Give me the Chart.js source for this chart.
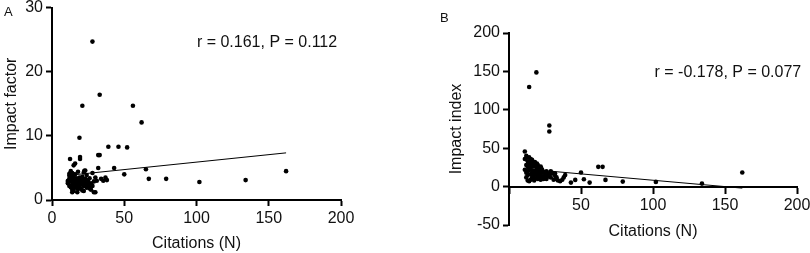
<!DOCTYPE html>
<html>
<head>
<meta charset="utf-8">
<script src="https://cdn.jsdelivr.net/npm/chart.js@4.4.0/dist/chart.umd.min.js"></script>
<style>
  html, body { margin: 0; padding: 0; background: #fff; overflow: hidden; }
  #wrap { position: relative; width: 810px; height: 253px; overflow: hidden; }
  #chartA { position: absolute; left: 0; top: -5px; }
  #chartB { position: absolute; left: 400px; top: 0; }
</style>
</head>
<body>
<div id="wrap">
  <canvas id="chartA" width="400" height="258"></canvas>
  <canvas id="chartB" width="420" height="253"></canvas>
</div>
<script>
// citations of each article, with the impact factor (A) and impact index (B)
let citations = [
    162, 134, 102, 79, 67, 65, 62, 56, 52, 50,
    46, 43, 39, 38, 37, 35.5, 34, 33, 33, 32,
    32, 31, 28, 28, 29, 30, 21, 19, 14, 11,
    12.5, 19.4, 19.4, 16, 15, 22.4, 17.5, 11, 11, 12,
    12, 12, 13, 13, 13, 13, 14, 14, 14, 14,
    15, 15, 15, 15, 16, 16, 16, 16, 17, 17,
    17, 18, 18, 18, 18, 19, 19, 19, 20, 20,
    20, 21, 21, 21, 22, 22, 22, 23, 23, 24,
    24, 25, 25, 26, 26, 27, 27, 28, 29, 30,
    23, 24, 25, 26, 13, 15, 17, 20, 22, 12
];
let impactFactor = [
    4.5, 3.1, 2.8, 3.3, 3.3, 4.8, 12.1, 14.7, 8.2, 4.0,
    8.3, 5.0, 8.3, 3.1, 3.5, 3.0, 3.3, 16.4, 7.0, 7.0,
    5.0, 3.0, 24.7, 4.2, 1.2, 1.2, 14.7, 9.7, 1.2, 2.8,
    6.4, 6.7, 6.4, 5.7, 5.4, 4.55, 1.2, 3.0, 2.6, 3.3,
    2.2, 3.8, 2.9, 2.0, 4.5, 3.5, 2.4, 3.1, 1.6, 4.2,
    2.8, 3.6, 2.1, 1.4, 3.2, 2.5, 4.0, 1.9, 2.7, 3.4,
    2.2, 3.0, 1.7, 4.4, 2.6, 3.5, 2.0, 2.9, 3.2, 1.8,
    2.4, 3.6, 2.7, 1.5, 3.0, 2.2, 4.3, 2.5, 3.3, 1.9,
    2.8, 3.1, 2.3, 2.0, 3.4, 2.6, 1.6, 2.2, 2.9, 3.5,
    4.6, 3.9, 2.7, 1.8, 3.7, 4.0, 2.1, 2.5, 1.4, 4.1
];
let impactIndex = [
    18.3, 3.9, 6.1, 6.5, 8.7, 25.7, 25.7, 5.2, 9.6, 18.3,
    8.7, 5.2, 15, 12, 9, 7, 8, 12, 10, 14,
    17, 9, 79.6, 71.7, 20, 18, 25, 148.7, 129.6, 45.7,
    38, 30, 28, 35, 36, 24, 8, 36, 22, 40,
    28, 18, 33, 26, 8, 20, 38, 30, 7, 24,
    34, 22, 16, 9, 31, 26, 18, 12, 29, 21,
    14, 27, 32, 19, 11, 25, 16, 21, 28, 14,
    10, 23, 18, 12, 26, 15, 9, 20, 13, 18,
    11, 19, 12, 16, 10, 17, 13, 15, 12, 17,
    22, 10, 14, 20, 15, 27, 10, 20, 17, 12
];

// regression lines, end points
let fitA = [[13.8, 3.9], [162, 7.35]];
let fitB = [[11, 23], [162, -2]];

let statA = 'r = 0.161, P = 0.112';
let statB = 'r = -0.178, P = 0.077';

const FONT = '"Liberation Sans", Arial, sans-serif';
const INK = '#111';

function points(xs, ys) {
    return xs.map((x, i) => ({ x: x, y: ys[i] }));
}
function linePts(arr) {
    return arr.map(p => ({ x: p[0], y: p[1] }));
}

// panel letter, r/P text and (for B) the x title
const panelText = {
    id: 'panelText',
    afterDraw(chart, args, opts) {
        const ctx = chart.ctx;
        const xs = chart.scales.x, ys = chart.scales.y;
        ctx.save();
        ctx.fillStyle = INK;
        ctx.textBaseline = 'middle';
        ctx.font = '13px ' + FONT;
        ctx.textAlign = 'left';
        ctx.fillText(opts.panel, opts.panelAt[0], opts.panelAt[1]);
        ctx.font = '16px ' + FONT;
        ctx.textAlign = 'center';
        ctx.fillText(opts.stat, xs.getPixelForValue(opts.statAt[0]), ys.getPixelForValue(opts.statAt[1]));
        if (opts.xTitle) {
            ctx.fillText(opts.xTitle, (chart.chartArea.left + chart.chartArea.right) / 2, opts.xTitleY);
        }
        ctx.restore();
    }
};

function axisStyle() {
    return {
        ticks: { color: INK, font: { family: FONT, size: 16 }, padding: 3 },
        grid: { drawOnChartArea: false, tickLength: 6, tickWidth: 2, tickColor: '#000' },
        border: { display: true, color: '#000', width: 2 }
    };
}

function datasets(data, fit) {
    return [{
        type: 'line',
        data: linePts(fit),
        borderColor: '#000',
        borderWidth: 1,
        pointRadius: 0,
        fill: false
    }, {
        type: 'scatter',
        data: data,
        backgroundColor: '#000',
        borderWidth: 0,
        pointRadius: 2.3
    }];
}

// Panel A
let axA = axisStyle(), ayA = axisStyle();
new Chart(document.getElementById('chartA'), {
    type: 'scatter',
    data: { datasets: datasets(points(citations, impactFactor), fitA) },
    options: {
        responsive: false,
        animation: false,
        layout: { padding: { top: 7, right: 59, left: 0, bottom: 0 } },
        plugins: {
            legend: { display: false },
            tooltip: { enabled: false },
            panelText: { panel: 'A', panelAt: [4, 17], stat: statA, statAt: [148.8, 24.6] }
        },
        scales: {
            x: Object.assign(axA, {
                type: 'linear', min: 0, max: 200,
                ticks: Object.assign(axA.ticks, { stepSize: 50 }),
                title: { display: true, text: 'Citations (N)', color: INK, font: { family: FONT, size: 16 }, padding: { top: 0, bottom: 0 } },
                afterFit: s => { s.height = 53; }
            }),
            y: Object.assign(ayA, {
                type: 'linear', min: 0, max: 30,
                ticks: Object.assign(ayA.ticks, { stepSize: 10 }),
                title: { display: true, text: 'Impact factor', color: INK, font: { family: FONT, size: 16 }, padding: { top: 2, bottom: 0 } },
                afterFit: s => { s.width = 52; }
            })
        }
    },
    plugins: [panelText]
});

// Panel B
let axB = axisStyle(), ayB = axisStyle();
new Chart(document.getElementById('chartB'), {
    type: 'scatter',
    data: { datasets: datasets(points(citations, impactIndex), fitB) },
    options: {
        responsive: false,
        animation: false,
        layout: { padding: { top: 33, right: 23, left: 0, bottom: 28 } },
        plugins: {
            legend: { display: false },
            tooltip: { enabled: false },
            panelText: { panel: 'B', panelAt: [40, 18], stat: statB, statAt: [152, 148], xTitle: 'Citations (N)', xTitleY: 232 }
        },
        scales: {
            x: Object.assign(axB, {
                type: 'linear', min: 0, max: 200, position: { y: 0 },
                ticks: Object.assign(axB.ticks, { stepSize: 50, callback: v => (v === 0 ? '' : v) })
            }),
            y: Object.assign(ayB, {
                type: 'linear', min: -50, max: 200,
                ticks: Object.assign(ayB.ticks, { stepSize: 50 }),
                title: { display: true, text: 'Impact index', color: INK, font: { family: FONT, size: 16 }, padding: { top: 47, bottom: 0 } },
                afterFit: s => { s.width = 109; }
            })
        }
    },
    plugins: [panelText]
});
</script>
</body>
</html>
